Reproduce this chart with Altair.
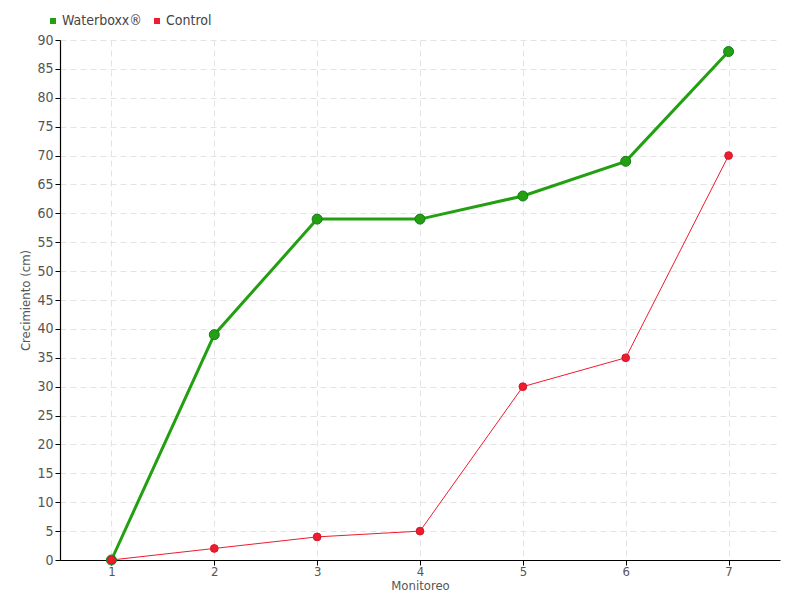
import altair as alt
import pandas as pd

monitoreo = [1, 2, 3, 4, 5, 6, 7]
waterboxx = [0, 39, 59, 59, 63, 69, 88]
control = [0, 2, 4, 5, 30, 35, 70]
series_names = ["Waterboxx®", "Control"]
series_colors = ["#22a012", "#ee1c2e"]
line_widths = [3, 1]
point_sizes = [100, 60]
point_strokes = ["#1a7a1a", "#d01828"]

rows = []
for name, vals in zip(series_names, [waterboxx, control]):
    for m, v in zip(monitoreo, vals):
        rows.append({"Monitoreo": m, "Crecimiento": v, "Serie": name})
df = pd.DataFrame(rows)

FONT = "'DejaVu Sans Condensed', 'Roboto Condensed', 'DejaVu Sans', sans-serif"

color = alt.Color("Serie:N", scale=alt.Scale(domain=series_names, range=series_colors),
                  legend=alt.Legend(title=None, orient="none", legendX=-14, legendY=-26,
                                    direction="horizontal", symbolType="square", symbolSize=36,
                                    symbolStrokeWidth=0,
                                    labelFont=FONT, labelFontSize=14, labelColor="#444",
                                    columnPadding=8, symbolOffset=0, labelOffset=2))

x = alt.X("Monitoreo:Q", scale=alt.Scale(domain=[0.5, 7.5], nice=False),
          axis=alt.Axis(values=monitoreo, title="Monitoreo", format="d",
                        titlePadding=1, tickSize=5))
y = alt.Y("Crecimiento:Q", scale=alt.Scale(domain=[0, 90], nice=False),
          axis=alt.Axis(values=list(range(0, 91, 5)), title="Crecimiento (cm)",
                        titlePadding=4, tickSize=5))

base = alt.Chart(df).encode(x=x, y=y, color=color,
                            order=alt.Order("Monitoreo:Q"))

layers = []
for name, lw in zip(series_names, line_widths):
    layers.append(base.transform_filter(alt.datum.Serie == name)
                  .mark_line(strokeWidth=lw))
for name, sz, st in zip(series_names, point_sizes, point_strokes):
    layers.append(base.transform_filter(alt.datum.Serie == name)
                  .mark_point(filled=True, opacity=1, size=sz, stroke=st, strokeWidth=1))

chart = alt.layer(*layers).properties(
    width=720, height=520,
    autosize=alt.AutoSizeParams(type="none"),
    padding={"left": 52, "top": 32, "right": 12, "bottom": 40},
).configure_view(stroke=None).configure_axis(
    labelFont=FONT, labelFontSize=14, labelColor="#555",
    titleFont=FONT, titleFontSize=13, titleColor="#555", titleFontWeight="normal",
    domainColor="#000", tickColor="#000", domainWidth=1.2,
    gridColor="#e3e3e3", gridDash=[6, 4], gridWidth=1,
).configure_axisX(labelPadding=0, labelFontSize=13).configure_axisY(labelPadding=2)

chart.save("out.html", embed_options={"renderer": "svg", "actions": False})
